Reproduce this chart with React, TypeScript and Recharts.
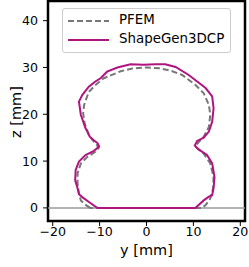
import {
  ComposedChart,
  Line,
  ReferenceArea,
  ReferenceLine,
  XAxis,
  YAxis,
} from "recharts";

// PFEM cross-section (dashed grey)
const pfemY = [
  -12.0, -13.2, -14.0, -14.4, -14.7, -14.7, -14.0, -12.6, -10.9, -10.2, -10.6,
  -11.5, -12.3, -13.2, -13.5, -13.3, -12.3, -10.5, -9.1, -5.5, -3.0, 0.0, 3.0,
  5.5, 7.6, 10.4, 12.2, 13.3, 13.6, 13.3, 12.2, 11.0, 10.4, 12.2, 13.6, 14.3,
  14.2, 13.6, 12.6, 11.8, -12.0,
];
const pfemZ = [
  0.0, 0.8, 1.6, 3.1, 5.2, 7.4, 9.5, 10.9, 12.0, 12.8, 13.5, 14.5, 15.6, 18.1,
  20.2, 22.0, 24.8, 26.6, 27.7, 29.2, 29.8, 30.0, 29.8, 29.2, 28.4, 26.3, 24.5,
  22.0, 19.9, 17.3, 15.2, 13.9, 13.1, 11.6, 9.5, 6.6, 4.2, 2.0, 0.6, 0.0, 0.0,
];

// ShapeGen3DCP cross-section (magenta)
const sgY = [
  -10.5, -12.2, -13.7, -14.4, -14.7, -15.2, -15.1, -14.4, -13.0, -11.2, -10.1,
  -10.4, -11.3, -12.1, -12.6, -13.0, -14.0, -14.4, -13.7, -12.3, -10.9, -9.8,
  -8.4, -6.2, -3.4, -0.6, 1.9, 4.0, 6.2, 9.0, 10.8, 12.6, 14.0, 14.3, 14.0,
  13.3, 12.2, 10.8, 10.3, 11.1, 12.9, 14.0, 14.5, 14.3, 14.0, 13.3, 12.2, 10.4,
  -10.5,
];
const sgZ = [
  0.0, 1.2, 2.3, 2.9, 4.2, 5.9, 8.1, 9.9, 11.3, 12.2, 13.1, 13.8, 14.5, 15.2,
  16.3, 17.0, 19.9, 22.7, 24.1, 25.9, 27.0, 27.7, 29.1, 30.0, 30.7, 30.6, 30.7,
  30.7, 30.1, 28.4, 27.0, 25.6, 23.8, 21.3, 18.4, 16.3, 15.0, 14.3, 13.3, 12.5,
  11.3, 9.5, 6.6, 4.2, 2.7, 2.4, 1.6, 0.0, 0.0,
];

const yTicks = [-20, -10, 0, 10, 20];
const zTicks = [0, 10, 20, 30, 40];

const pfemData = pfemY.map((y, i) => ({ y, z: pfemZ[i] }));
const sgData = sgY.map((y, i) => ({ y, z: sgZ[i] }));

const FONT = "'DejaVu Sans', sans-serif";
const MAGENTA = "#b0147f";
const GREY = "#777777";

// matplotlib-style legend box, sits over the top of the plot
const LegendBox = () => (
  <div
    style={{
      position: "absolute",
      left: 62,
      top: 8,
      width: 167,
      height: 43,
      border: "1px solid #cccccc",
      borderRadius: 3,
      background: "rgba(255,255,255,0.85)",
      fontFamily: FONT,
      fontSize: 13.4,
      lineHeight: "16px",
      color: "#000",
    }}
  >
    <svg width={50} height={43} style={{ position: "absolute", left: 0, top: 0 }}>
      <line x1={5} x2={46} y1={12} y2={12} stroke={GREY} strokeWidth={2} strokeDasharray="6 3" />
      <line x1={5} x2={46} y1={31} y2={31} stroke={MAGENTA} strokeWidth={2} />
    </svg>
    <div style={{ position: "absolute", left: 56, top: 3 }}>PFEM</div>
    <div style={{ position: "absolute", left: 56, top: 22 }}>ShapeGen3DCP</div>
  </div>
);

export default function App() {
  return (
    <div style={{ position: "absolute", left: 0, top: 0, width: 249, height: 267, background: "#fff" }}>
      <ComposedChart
        width={249}
        height={267}
        margin={{ top: 1, right: 4, bottom: 0, left: 0 }}
      >
        <XAxis
          type="number"
          dataKey="y"
          domain={[-21, 21]}
          ticks={yTicks}
          allowDataOverflow
          height={46}
          tickSize={5}
          tickMargin={1}
          tickFormatter={(v: number) => (v < 0 ? `\u2212${Math.abs(v)}` : `${v}`)}
          tick={{ fill: "#000", fontSize: 12.6, fontFamily: FONT }}
          tickLine={{ stroke: "#000", strokeWidth: 1 }}
          axisLine={false}
          label={{
            value: "y [mm]",
            position: "insideBottom",
            offset: 12,
            fill: "#000",
            fontSize: 14.5,
            fontFamily: FONT,
          }}
        />
        <YAxis
          type="number"
          dataKey="z"
          domain={[-2.8, 44.2]}
          ticks={zTicks}
          allowDataOverflow
          width={48}
          tickSize={5}
          tickMargin={5}
          tick={{ fill: "#000", fontSize: 12.6, fontFamily: FONT }}
          tickLine={{ stroke: "#000", strokeWidth: 1 }}
          axisLine={false}
          label={{
            content: () => (
              <text
                x={16}
                y={112}
                transform="rotate(-90 16 112)"
                textAnchor="middle"
                dominantBaseline="central"
                fill="#000"
                fontSize={14.5}
                fontFamily={FONT}
              >
                z [mm]
              </text>
            ),
          }}
        />
        <ReferenceLine y={0} stroke="#9a9a9a" strokeWidth={1.5} />
        <Line
          data={pfemData}
          dataKey="z"
          type="linear"
          stroke={GREY}
          strokeWidth={2}
          strokeDasharray="6 3"
          dot={false}
          activeDot={false}
          isAnimationActive={false}
        />
        <Line
          data={sgData}
          dataKey="z"
          type="linear"
          stroke={MAGENTA}
          strokeWidth={2}
          dot={false}
          activeDot={false}
          isAnimationActive={false}
        />
        <ReferenceArea
          x1={-21}
          x2={21}
          y1={-2.8}
          y2={44.2}
          fill="none"
          fillOpacity={0}
          stroke="#000"
          strokeWidth={2.5}
          ifOverflow="visible"
        />
      </ComposedChart>
      <LegendBox />
    </div>
  );
}
